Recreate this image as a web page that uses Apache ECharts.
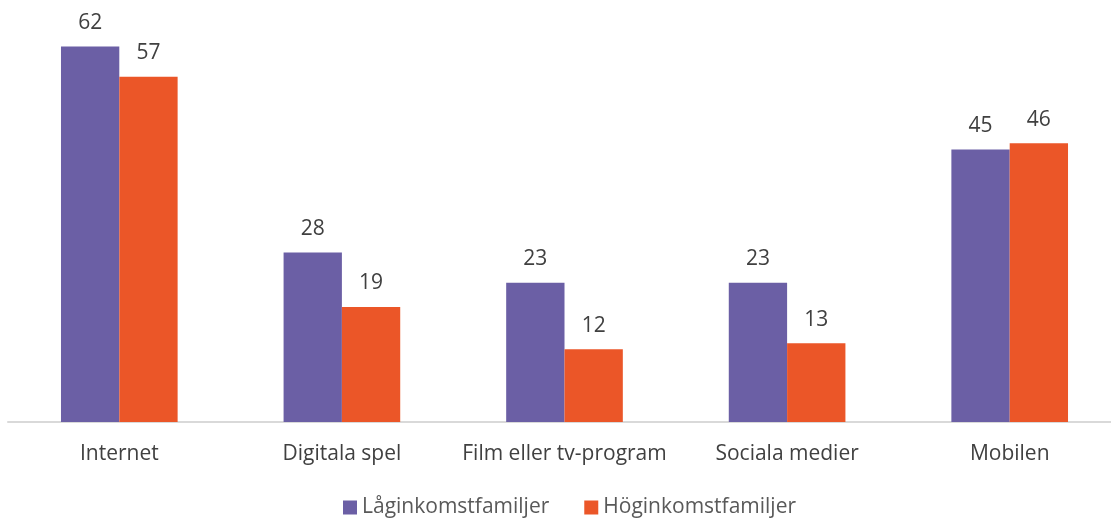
<!DOCTYPE html>
<html><head><meta charset="utf-8">
<script src="https://cdn.jsdelivr.net/npm/echarts@6/dist/echarts.min.js"></script>
<style>html,body{margin:0;padding:0;background:#fff}#c{width:1111px;height:519px}</style>
</head><body><div id="c"></div>
<script>
const categories = ['Internet', 'Digitala spel', 'Film eller tv-program', 'Sociala medier', 'Mobilen'];
const lowIncome = [62, 28, 23, 23, 45];
const highIncome = [57, 19, 12, 13, 46];
const seriesNames = ['Låginkomstfamiljer', 'Höginkomstfamiljer'];
const FONT = '"Open Sans", sans-serif';
const chart = echarts.init(document.getElementById('c'));
const label = {show: true, position: 'top', distance: 13, color: '#404040', fontSize: 21, fontFamily: FONT};
chart.setOption({
  animation: false,
  grid: {left: 8, width: 1113, top: -2, bottom: 97, containLabel: false, outerBoundsMode: 'none'},
  legend: {
    top: 492, left: 338, itemWidth: 14, itemHeight: 14, itemGap: 35,
    icon: 'rect',
    textStyle: {color: '#595959', fontSize: 21, fontFamily: FONT},
    data: seriesNames
  },
  xAxis: {
    type: 'category', data: categories,
    axisLine: {lineStyle: {color: '#D9D9D9', width: 2}},
    axisTick: {show: false},
    axisLabel: {color: '#404040', fontSize: 21, fontFamily: FONT, margin: 22, interval: 0}
  },
  yAxis: {type: 'value', min: 0, max: 70, show: false, splitLine: {show: false}},
  series: [
    {name: seriesNames[0], type: 'bar', data: lowIncome, barWidth: '26.2%', barGap: '0%',
     itemStyle: {color: '#6B5FA5'}, label: label},
    {name: seriesNames[1], type: 'bar', data: highIncome, barWidth: '26.2%', barGap: '0%',
     itemStyle: {color: '#EB5628'}, label: label}
  ]
});
</script></body></html>
